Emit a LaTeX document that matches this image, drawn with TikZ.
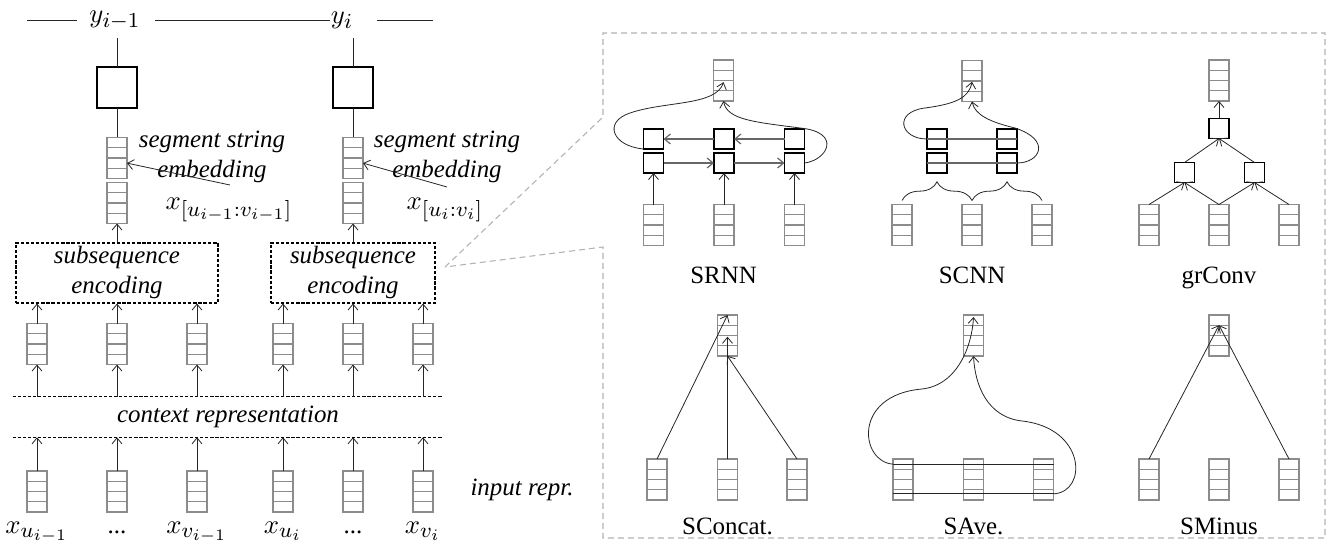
\documentclass[tikz,border=0pt]{standalone}
\usepackage{graphicx}
\usepackage{fontspec}
\setmainfont{Liberation Serif}
\DeclareMathSizes{10}{10}{8}{6}
\newcommand{\mm}[1]{\scalebox{2}{\fontsize{10}{12}\selectfont$#1$}}
\usetikzlibrary{arrows.meta,calc,decorations.pathreplacing}
\begin{document}
\begin{tikzpicture}[x=0.75pt,y=-0.75pt,
  ln/.style={draw=black!85, line width=0.6pt},
  arr/.style={ln, -{Straight Barb[length=4.5pt,width=7.5pt]}},
  garr/.style={draw=gray!80!black, line width=0.9pt, -{Straight Barb[length=4.5pt,width=7.5pt]}},
  gline/.style={draw=gray!80!black, line width=0.9pt},
  vec/.style={draw=gray!90, line width=0.9pt, minimum width=15pt, minimum height=30.75pt, inner sep=0pt, outer sep=0pt,
    path picture={
      \foreach \f in {0.25,0.5,0.75}{
        \draw[gray!90, line width=0.9pt] ($(path picture bounding box.north west)!\f!(path picture bounding box.south west)$) -- ($(path picture bounding box.north east)!\f!(path picture bounding box.south east)$);
      }}},
  bigsq/.style={draw=black, line width=1.1pt, minimum width=30pt, minimum height=30.75pt, inner sep=0pt, outer sep=0pt},
  sq/.style={draw=black, line width=1pt, minimum size=15pt, inner sep=0pt, outer sep=0pt},
  dbox/.style={draw=black, line width=0.8pt, dash pattern=on 2.4pt off 1.4pt, inner sep=0pt},
  dline/.style={draw=black, line width=0.8pt, dash pattern=on 2.4pt off 1.4pt},
  tx/.style={font=\fontsize{18.7}{22.5}\selectfont\itshape, align=center, inner sep=0pt},
  lbl/.style={font=\fontsize{18.7}{22.5}\selectfont, inner sep=0pt},
  mth/.style={inner sep=0pt},
  brc/.style={ln, decorate, decoration={brace, amplitude=14pt}}
]
\useasboundingbox (0,0) rectangle (1330,549);

% ---------------- left part ----------------
\node[mth] (y1) at (115,20) {\mm{y_{i-1}}};
\node[mth] (y2) at (342,20) {\mm{y_i}};
\coordinate (h0) at (27,20); \coordinate (h1) at (77,20);
\coordinate (h2) at (155,20); \coordinate (h3) at (330,20);
\coordinate (h4) at (377,20); \coordinate (h5) at (433,20);
\draw[ln] (h0) -- (h1);
\draw[ln] (h2) -- (h3);
\draw[ln] (h4) -- (h5);

\node[bigsq] (q1) at (117,87.5) {};
\node[bigsq] (q2) at (353,87.5) {};
\coordinate (v1) at (117,38); \coordinate (v2) at (353,38);
\draw[ln] (v1) -- (q1.north);
\draw[ln] (v2) -- (q2.north);

\node[vec] (e1) at (117,158) {};
\node[vec] (e2) at (353,158) {};
\draw[ln] (q1.south) -- (e1.north);
\draw[ln] (q2.south) -- (e2.north);
\node[vec] (s1) at (117,203) {};
\node[vec] (s2) at (353,203) {};

\node[tx] (t1) at (212,157) {segment string\\embedding};
\node[tx] (t2) at (447,157) {segment string\\embedding};
\coordinate (a1) at (230,185); \coordinate (a2) at (447,187);
\draw[arr] (a1) -- ($(e1.north east)!0.625!(e1.south east)$);
\draw[arr] (a2) -- ($(e2.north east)!0.625!(e2.south east)$);

\node[mth] (l1) at (229,210) {\mm{x_{[u_{i-1}:v_{i-1}]}}};
\node[mth] (l2) at (445,210) {\mm{x_{[u_i:v_i]}}};

\node[dbox, tx, minimum width=151.5pt, minimum height=45pt] (b1) at (117,273) {subsequence\\encoding};
\node[dbox, tx, minimum width=123pt, minimum height=45pt] (b2) at (353,273) {subsequence\\encoding};
\draw[arr] (b1.north) -- (s1.south);
\draw[arr] (b2.north) -- (s2.south);

\foreach \n/\x in {r1/37, r2/117, r3/197, r4/283, r5/353, r6/423}{
  \node[vec] (\n) at (\x,344) {};
}
\foreach \n in {r1,r2,r3}{ \draw[arr] (\n.north) -- (\n.north |- b1.south); }
\foreach \n in {r4,r5,r6}{ \draw[arr] (\n.north) -- (\n.north |- b2.south); }

\node[tx, minimum width=322.5pt, minimum height=30pt] (ctx) at (228,417) {context representation};
\draw[dline] (ctx.north west) -- (ctx.north east);
\draw[dline] (ctx.south west) -- (ctx.south east);

\foreach \n/\x in {i1/37, i2/117, i3/197, i4/283, i5/353, i6/423}{
  \node[vec] (\n) at (\x,491.5) {};
}
\foreach \n in {r1,r2,r3,r4,r5,r6}{ \draw[arr] (\n.south |- ctx.north) -- (\n.south); }
\foreach \n in {i1,i2,i3,i4,i5,i6}{ \draw[arr] (\n.north) -- (\n.north |- ctx.south); }

\node[mth, anchor=base] (x1) at (37,533) {\mm{x_{u_{i-1}}}};
\node[lbl, anchor=base] (x2) at (117,533) {...};
\node[mth, anchor=base] (x3) at (197,533) {\mm{x_{v_{i-1}}}};
\node[mth, anchor=base] (x4) at (283,533) {\mm{x_{u_i}}};
\node[lbl, anchor=base] (x5) at (353,533) {...};
\node[mth, anchor=base] (x6) at (423,533) {\mm{x_{v_i}}};
\node[tx] (inp) at (522,490) {input repr.};

% ---------------- callout ----------------
\coordinate (z0) at (445,267);
\draw[gray!60, line width=0.8pt, dash pattern=on 4.5pt off 3pt] (z0) -- (603,117) -- (603,33) -- (1325,33) -- (1325,538) -- (603,538) -- (603,247) -- cycle;

% ---------------- SRNN ----------------
\node[vec] (T1) at (723.5,80.5) {};
\foreach \n/\x in {1/653.5,2/724,3/794.5}{
  \node[sq] (U\n) at (\x,139) {};
  \node[sq] (L\n) at (\x,163) {};
  \node[vec] (B\n) at (\x,225) {};
  \draw[arr] (B\n.north) -- (L\n.south);
}
\draw[garr] (L1.east) -- (L2.west);
\draw[garr] (L2.east) -- (L3.west);
\draw[garr] (U3.west) -- (U2.east);
\draw[garr] (U2.west) -- (U1.east);
\draw[arr] (U1.south west) .. controls (612,146) and (603,122) .. (630,113) .. controls (665,101) and (716,106) .. ($(T1.north)!0.54!(T1.south)$);
\draw[arr] (L3.east) .. controls (828,160) and (842,132) .. (800,128) .. controls (755,122) and (727,120) .. (T1.south);
\node[lbl, anchor=base] (n1) at (723.5,283) {SRNN};

% ---------------- SCNN ----------------
\node[vec] (T2) at (972,81) {};
\node[sq] (U4) at (937,139) {};
\node[sq] (U5) at (1007,139) {};
\node[sq] (L4) at (937,163) {};
\node[sq] (L5) at (1007,163) {};
\node[vec] (B4) at (902,225) {};
\node[vec] (B5) at (972,225) {};
\node[vec] (B6) at (1042,225) {};
\draw[gline] (U4.west) -- (U5.east);
\draw[gline] (L4.west) -- (L5.east);
\draw[brc] ([yshift=3pt]B4.north) -- ([yshift=3pt]B5.north);
\draw[brc] ([yshift=3pt]B5.north) -- ([yshift=3pt]B6.north);
\draw[arr] (U4.west) .. controls (900,139) and (893,112) .. (925,108) .. controls (955,104) and (969,98) .. ($(T2.north)!0.52!(T2.south)$);
\draw[arr] (L5.east) .. controls (1040,163) and (1052,140) .. (1015,128) .. controls (990,122) and (975,115) .. (T2.south);
\node[lbl, anchor=base] (n2) at (972,283) {SCNN};

% ---------------- grConv ----------------
\node[vec] (T3) at (1219,80.5) {};
\node[sq] (G1) at (1219,128.5) {};
\node[sq] (G2) at (1184.5,172.5) {};
\node[sq] (G3) at (1254.5,172.5) {};
\node[vec] (B7) at (1149,225) {};
\node[vec] (B8) at (1219,225) {};
\node[vec] (B9) at (1289,225) {};
\draw[arr] (G1.north) -- (T3.south);
\draw[arr] (G2.north) -- (G1.south);
\draw[arr] (G3.north) -- (G1.south);
\draw[arr] (B7.north) -- (G2.south);
\draw[arr] (B8.north) -- (G2.south);
\draw[arr] (B8.north) -- (G3.south);
\draw[arr] (B9.north) -- (G3.south);
\node[lbl, anchor=base] (n3) at (1219,283) {grConv};

% ---------------- SConcat ----------------
\node[vec] (T4) at (727.5,335.5) {};
\node[vec] (B10) at (657,479.5) {};
\node[vec] (B11) at (727.5,479.5) {};
\node[vec] (B12) at (797,479.5) {};
\draw[arr] (B10.north) -- (T4.north);
\draw[arr] (B11.north) -- ($(T4.north)!0.53!(T4.south)$);
\draw[arr] (B12.north) -- (T4.south);
\node[lbl, anchor=base] (n4) at (727.5,534) {SConcat.};

% ---------------- SAve ----------------
\node[vec] (T5) at (973.5,335.5) {};
\node[vec] (B13) at (903,479.5) {};
\node[vec] (B14) at (973.5,479.5) {};
\node[vec] (B15) at (1043.5,479.5) {};
\draw[ln] ($(B13.north west)!0.125!(B13.south west)$) -- ($(B15.north east)!0.125!(B15.south east)$);
\draw[ln] ($(B13.north west)!0.85!(B13.south west)$) -- ($(B15.north east)!0.85!(B15.south east)$);
\draw[arr] ($(B13.north west)!0.125!(B13.south west)$) .. controls (860,462) and (852,395) .. (922,389) .. controls (958,385) and (972,345) .. ($(T5.north)!0.05!(T5.south)$);
\draw[arr] ($(B15.north east)!0.85!(B15.south east)$) .. controls (1088,492) and (1086,428) .. (1022,421) .. controls (987,417) and (975,385) .. (T5.south);
\node[lbl, anchor=base] (n5) at (973.5,534) {SAve.};

% ---------------- SMinus ----------------
\node[vec] (T6) at (1219,335.5) {};
\node[vec] (B16) at (1149,479.5) {};
\node[vec] (B17) at (1219,479.5) {};
\node[vec] (B18) at (1289,479.5) {};
\draw[arr] (B16.north) -- ($(T6.north)!0.25!(T6.south)$);
\draw[arr] (B18.north) -- ($(T6.north)!0.25!(T6.south)$);
\node[lbl, anchor=base] (n6) at (1219,534) {SMinus};
\end{tikzpicture}
\end{document}
